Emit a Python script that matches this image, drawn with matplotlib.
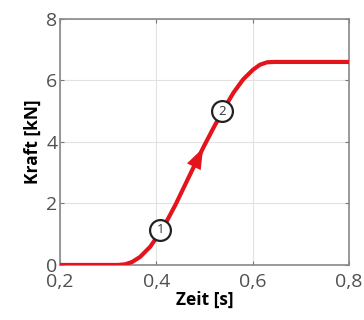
import numpy as np
import matplotlib.pyplot as plt

# Kraft-Zeit-Verlauf
zeit = [0.2, 0.32, 0.335, 0.35, 0.366, 0.387, 0.403, 0.42, 0.44, 0.46,
        0.48, 0.50, 0.52, 0.54, 0.56, 0.58, 0.60, 0.615, 0.63, 0.645, 0.8]
kraft = [0.0, 0.0, 0.02, 0.10, 0.26, 0.59, 0.95, 1.38, 1.97, 2.62,
         3.27, 3.90, 4.50, 5.07, 5.60, 6.03, 6.34, 6.51, 6.59, 6.60, 6.60]

punkte_x = [0.408, 0.536]
punkte_y = [1.14, 5.0]
punkte_lbl = ['1', '2']

# Pfeil (Spitze / Basis)
pfeil_spitze = (0.497, 3.80)
pfeil_basis = (0.470, 2.95)

x_ticks = [0.2, 0.4, 0.6, 0.8]
x_labels = ['0,2', '0,4', '0,6', '0,8']
y_ticks = [0, 2, 4, 6, 8]

rot = '#e3141b'
grau = '#505050'

plt.rcParams['font.family'] = ['Open Sans', 'DejaVu Sans']

fig = plt.figure(figsize=(3.64, 3.2), dpi=100)
ax = fig.add_axes([0.165, 0.172, 0.794, 0.769])

ax.plot(zeit, kraft, color=rot, lw=3, solid_capstyle='butt',
        solid_joinstyle='round', zorder=3)

ax.annotate('', xy=pfeil_spitze, xytext=pfeil_basis,
            arrowprops=dict(arrowstyle='-|>,head_length=1.5,head_width=0.55',
                            color=rot, lw=0, shrinkA=0, shrinkB=0),
            zorder=4)

ax.plot(punkte_x, punkte_y, 'o', ms=15, mfc='white', mec='#222222', mew=1.6, zorder=5)
for px, py, t in zip(punkte_x, punkte_y, punkte_lbl):
    ax.text(px, py, t, ha='center', va='center', fontsize=9.5, color='#333333', zorder=6)

ax.set_xlim(0.2, 0.8)
ax.set_ylim(0, 8)
ax.set_xticks(x_ticks)
ax.set_xticklabels(x_labels)
ax.set_yticks(y_ticks)
ax.grid(True, color='#e2e2e2', lw=0.8)
ax.set_axisbelow(True)

ax.tick_params(direction='in', length=3, width=0.8, colors='#777777',
               labelcolor=grau, labelsize=14, top=True, right=True)
ax.tick_params(axis='x', pad=6)
ax.tick_params(axis='y', pad=2)
for s in ax.spines.values():
    s.set_color('#888888')
    s.set_linewidth(1.2)

ax.set_xlabel('Zeit [s]', fontsize=12.5, fontweight='bold', labelpad=0)
ax.set_ylabel('Kraft [kN]', fontsize=12.5, fontweight='bold', labelpad=3)

fig.savefig('out.png', dpi=100)
